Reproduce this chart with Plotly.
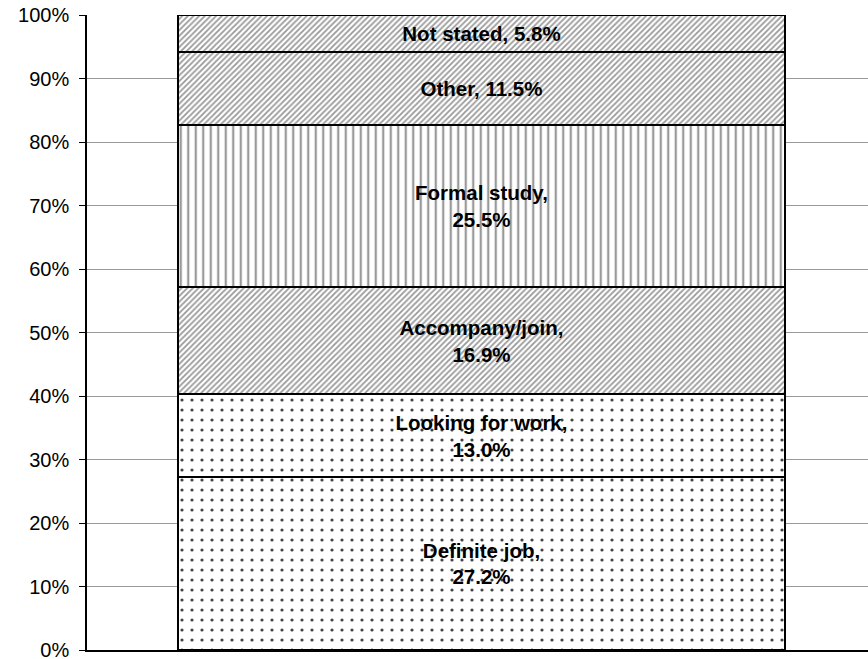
import plotly.graph_objects as go

categories = ["Definite job", "Looking for work", "Accompany/join", "Formal study", "Other", "Not stated"]
values = [27.2, 13.0, 16.9, 25.5, 11.5, 5.8]
label_break = [True, True, True, True, False, False]
patterns = [".", ".", "/", "|", "/", "/"]
tick_vals = [0, 10, 20, 30, 40, 50, 60, 70, 80, 90, 100]
tick_text = [f"{v}%" for v in tick_vals]

pat_style = {
    ".": dict(shape=".", size=10, solidity=0.08, fgcolor="#444444", bgcolor="white", fillmode="replace"),
    "/": dict(shape="/", size=4, solidity=0.45, fgcolor="#999999", bgcolor="white", fillmode="replace"),
    "|": dict(shape="|", size=7.5, solidity=0.3, fgcolor="#999999", bgcolor="white", fillmode="replace"),
}

fig = go.Figure()
for cat, val, br, pat in zip(categories, values, label_break, patterns):
    sep = ",<br>" if br else ", "
    fig.add_trace(go.Bar(
        x=[0], y=[val], width=0.769,
        marker=dict(color="white", line=dict(color="black", width=2), pattern=pat_style[pat]),
        text=[f"<b>{cat}{sep}{val:.1f}%</b>"],
        textposition="inside", insidetextanchor="middle",
        textfont=dict(family="Liberation Sans, Arial", size=20.5, color="black"),
        hoverinfo="skip", showlegend=False,
    ))

fig.update_layout(
    barmode="stack", barnorm="percent",
    width=868, height=675,
    margin=dict(l=87, r=0, t=15, b=25),
    plot_bgcolor="white", paper_bgcolor="white",
    font=dict(family="Liberation Sans, Arial", size=20, color="black"),
)
fig.update_xaxes(range=[-0.5, 0.4899], showticklabels=False, showgrid=False, automargin=False,
                 zeroline=False, showline=True, linecolor="black", linewidth=1.5, ticks="")
fig.update_yaxes(range=[0, 100], tickvals=tick_vals, ticktext=tick_text, automargin=False,
                 showgrid=True, gridcolor="#999999", gridwidth=1, zeroline=False,
                 showline=True, linecolor="black", linewidth=1.5,
                 ticks="outside", ticklen=6, tickcolor="black", tickfont=dict(size=20),
                 ticklabelstandoff=6)

fig.write_html("out.html", config={"displayModeBar": False},
               post_script="document.body.style.margin='0';document.body.style.overflow='hidden';")
